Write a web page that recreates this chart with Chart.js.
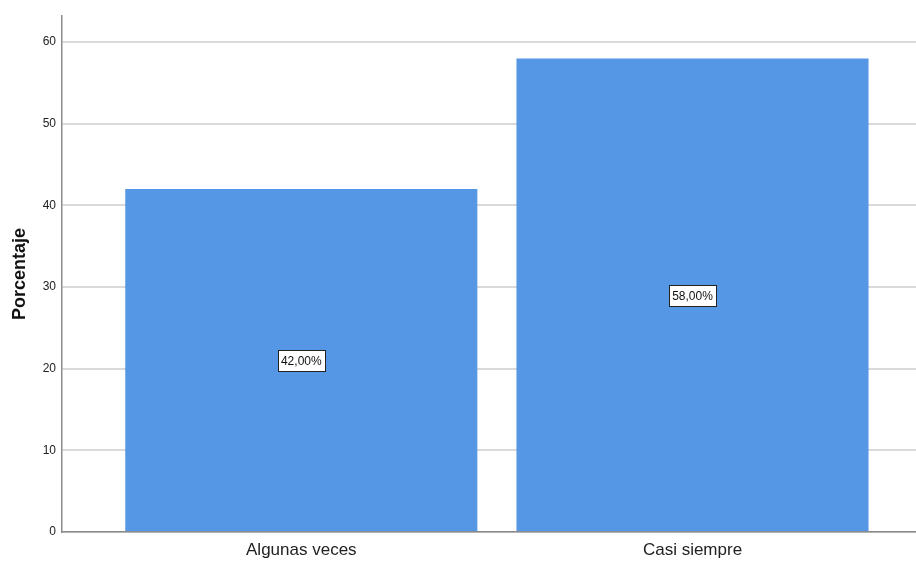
<!DOCTYPE html>
<html>
<head>
<meta charset="utf-8">
<script src="https://cdn.jsdelivr.net/npm/chart.js@4"></script>
<style>
html,body{margin:0;padding:0;background:#fff;}
#wrap{width:916px;height:562px;position:relative;}
</style>
</head>
<body>
<div id="wrap"><canvas id="c" width="916" height="562"></canvas></div>
<script>
const categories = ["Algunas veces", "Casi siempre"];
const percentages = [42, 58];
const valueLabels = ["42,00%", "58,00%"];
const yTicks = [0, 10, 20, 30, 40, 50, 60];

const labelPlugin = {
  id: 'boxLabels',
  afterDatasetsDraw(chart) {
    const ctx = chart.ctx;
    const meta = chart.getDatasetMeta(0);
    const yScale = chart.scales.y;
    ctx.save();
    ctx.font = '12px "Liberation Sans", Arial, sans-serif';
    ctx.textAlign = 'center';
    ctx.textBaseline = 'middle';
    meta.data.forEach((bar, i) => {
      const cx = bar.x;
      const cy = yScale.getPixelForValue(percentages[i] / 2);
      const txt = valueLabels[i];
      const w = ctx.measureText(txt).width + 6;
      const h = 21;
      ctx.fillStyle = '#fff';
      ctx.fillRect(Math.round(cx - w / 2) + 0.5, Math.round(cy - h / 2) + 0.5, Math.round(w), h);
      ctx.strokeStyle = '#222';
      ctx.lineWidth = 1;
      ctx.strokeRect(Math.round(cx - w / 2) + 0.5, Math.round(cy - h / 2) + 0.5, Math.round(w), h);
      ctx.fillStyle = '#111';
      ctx.fillText(txt, cx, cy + 1);
    });
    ctx.restore();
  }
};

new Chart(document.getElementById('c'), {
  type: 'bar',
  data: {
    datasets: [{
      data: categories.map((c, i) => ({ x: i, y: percentages[i] })),
      backgroundColor: '#5596e5',
      borderWidth: 0,
      barPercentage: 0.9,
      categoryPercentage: 1.0
    }]
  },
  plugins: [labelPlugin],
  options: {
    responsive: false,
    animation: false,
    events: [],
    layout: { padding: { top: 16, right: 0, left: 0, bottom: 0 } },
    plugins: { legend: { display: false }, tooltip: { enabled: false } },
    scales: {
      x: {
        type: 'linear',
        bounds: 'data',
        offset: false,
        min: -0.6117,
        max: 1.5713,
        afterBuildTicks(scale) { scale.ticks = categories.map((c, i) => ({ value: i })); },
        afterFit(scale) { scale.height = 30; },
        grid: { display: false, drawTicks: false, offset: false },
        border: { display: true, color: '#8c8c8c', width: 1.5 },
        ticks: {
          padding: 8,
          color: '#222',
          font: { family: '"Liberation Sans", Arial, sans-serif', size: 17 },
          callback: (v) => categories[v] !== undefined ? categories[v] : ''
        }
      },
      y: {
        min: 0,
        max: 63.2,
        afterBuildTicks(scale) { scale.ticks = yTicks.map(v => ({ value: v })); },
        afterFit(scale) { scale.width = 62; },
        grid: { color: '#d9d9d9', lineWidth: 2, drawTicks: false },
        border: { display: true, color: '#8c8c8c', width: 1.5 },
        ticks: {
          padding: 6,
          color: '#222',
          font: { family: '"Liberation Sans", Arial, sans-serif', size: 12 }
        },
        title: {
          display: true,
          text: 'Porcentaje',
          color: '#111',
          padding: { top: 9, bottom: 0 },
          font: { family: '"Liberation Sans", Arial, sans-serif', size: 18, weight: 'bold' }
        }
      }
    }
  }
});
</script>
</body>
</html>
